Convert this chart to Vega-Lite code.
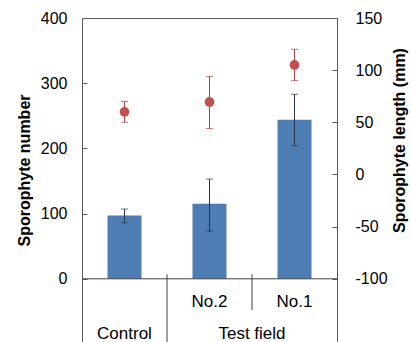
{
  "$schema": "https://vega.github.io/schema/vega-lite/v6.json",
  "width": 255,
  "height": 326,
  "autosize": {"type": "none"},
  "padding": {"left": 82, "top": 18, "right": 74, "bottom": 0},
  "background": "white",
  "config": {"view": {"stroke": "#595959", "strokeWidth": 1}, "font": "Liberation Sans"},
  "datasets": {
    "main": [
      {"site": "Control", "number": 97, "number_lo": 86, "number_hi": 107, "length": 60, "length_lo": 50, "length_hi": 70},
      {"site": "No.2", "number": 115, "number_lo": 73, "number_hi": 153, "length": 69.5, "length_lo": 44, "length_hi": 94},
      {"site": "No.1", "number": 244, "number_lo": 204, "number_hi": 283, "length": 105, "length_lo": 90, "length_hi": 120}
    ]
  },
  "layer": [
    {
      "data": {"name": "main"},
      "layer": [
        {
          "mark": {"type": "bar", "color": "#4E7DB4", "width": {"band": 0.4}},
          "encoding": {
            "x": {"field": "site", "type": "nominal", "sort": ["Control", "No.2", "No.1"], "scale": {"type": "band", "paddingInner": 0, "paddingOuter": 0}, "axis": null},
            "y": {
              "field": "number", "type": "quantitative",
              "scale": {"domain": [-100, 400], "nice": false, "zero": false},
              "axis": {
                "title": "Sporophyte number", "orient": "left", "values": [0, 100, 200, 300, 400],
                "domain": false, "grid": false, "tickSize": -5, "tickColor": "#595959",
                "labelPadding": 20, "labelFontSize": 16, "labelColor": "black", "labelFont": "Liberation Sans",
                "titleFontSize": 16, "titleFont": "Liberation Sans", "titleFontWeight": "bold", "titleColor": "black",
                "titleAngle": -90, "titleX": -58, "titleY": 152, "titleAlign": "center", "titleBaseline": "middle"
              }
            }
          }
        },
        {
          "mark": {"type": "rule", "color": "#26334D", "strokeWidth": 1},
          "encoding": {
            "x": {"field": "site", "type": "nominal", "sort": ["Control", "No.2", "No.1"]},
            "y": {"field": "number_lo", "type": "quantitative"},
            "y2": {"field": "number_hi"}
          }
        },
        {
          "mark": {"type": "tick", "color": "#26334D", "size": 7, "thickness": 1},
          "encoding": {
            "x": {"field": "site", "type": "nominal", "sort": ["Control", "No.2", "No.1"]},
            "y": {"field": "number_lo", "type": "quantitative"}
          }
        },
        {
          "mark": {"type": "tick", "color": "#26334D", "size": 7, "thickness": 1},
          "encoding": {
            "x": {"field": "site", "type": "nominal", "sort": ["Control", "No.2", "No.1"]},
            "y": {"field": "number_hi", "type": "quantitative"}
          }
        },
        {
          "data": {"values": [{"line": "base"}]},
          "mark": {"type": "rule", "color": "#404040", "strokeWidth": 1},
          "encoding": {"y": {"datum": 0}}
        },
        {
          "data": {"values": [{"site": "No.2"}]},
          "mark": {"type": "rule", "color": "#404040", "strokeWidth": 1},
          "encoding": {
            "x": {"field": "site", "type": "nominal", "sort": ["Control", "No.2", "No.1"], "bandPosition": 0},
            "y": {"datum": 7},
            "y2": {"datum": -100}
          }
        },
        {
          "data": {"values": [{"site": "No.1"}]},
          "mark": {"type": "rule", "color": "#404040", "strokeWidth": 1},
          "encoding": {
            "x": {"field": "site", "type": "nominal", "sort": ["Control", "No.2", "No.1"], "bandPosition": 0},
            "y": {"datum": 7},
            "y2": {"datum": -48}
          }
        },
        {
          "data": {"values": [{"site": "No.2", "label": "No.2"}, {"site": "No.1", "label": "No.1"}]},
          "mark": {"type": "text", "fontSize": 17, "color": "black", "align": "center", "baseline": "alphabetic"},
          "encoding": {
            "x": {"field": "site", "type": "nominal", "sort": ["Control", "No.2", "No.1"]},
            "y": {"datum": -43},
            "text": {"field": "label"}
          }
        },
        {
          "data": {"values": [{"site": "Control", "label": "Control"}]},
          "mark": {"type": "text", "fontSize": 17, "color": "black", "align": "center", "baseline": "alphabetic"},
          "encoding": {
            "x": {"field": "site", "type": "nominal", "sort": ["Control", "No.2", "No.1"]},
            "y": {"datum": -93},
            "text": {"field": "label"}
          }
        },
        {
          "data": {"values": [{"site": "No.1", "label": "Test field"}]},
          "mark": {"type": "text", "fontSize": 17, "color": "black", "align": "center", "baseline": "alphabetic"},
          "encoding": {
            "x": {"field": "site", "type": "nominal", "sort": ["Control", "No.2", "No.1"], "bandPosition": 0},
            "y": {"datum": -93},
            "text": {"field": "label"}
          }
        }
      ]
    },
    {
      "data": {"name": "main"},
      "layer": [
        {
          "mark": {"type": "rule", "color": "#A8443F", "strokeWidth": 1},
          "encoding": {
            "x": {"field": "site", "type": "nominal", "sort": ["Control", "No.2", "No.1"]},
            "y": {"field": "length_lo", "type": "quantitative"},
            "y2": {"field": "length_hi"}
          }
        },
        {
          "mark": {"type": "tick", "color": "#A8443F", "size": 7, "thickness": 1},
          "encoding": {
            "x": {"field": "site", "type": "nominal", "sort": ["Control", "No.2", "No.1"]},
            "y": {"field": "length_lo", "type": "quantitative"}
          }
        },
        {
          "mark": {"type": "tick", "color": "#A8443F", "size": 7, "thickness": 1},
          "encoding": {
            "x": {"field": "site", "type": "nominal", "sort": ["Control", "No.2", "No.1"]},
            "y": {"field": "length_hi", "type": "quantitative"}
          }
        },
        {
          "mark": {"type": "point", "filled": true, "shape": "circle", "color": "#C0504D", "size": 95, "opacity": 1},
          "encoding": {
            "x": {"field": "site", "type": "nominal", "sort": ["Control", "No.2", "No.1"]},
            "y": {
              "field": "length", "type": "quantitative",
              "scale": {"domain": [-162.5, 150], "nice": false, "zero": false},
              "axis": {
                "title": "Sporophyte length (mm)", "orient": "right", "values": [-100, -50, 0, 50, 100, 150],
                "labelExpr": "'' + datum.value",
                "domain": false, "grid": false, "tickSize": -5, "tickColor": "#595959",
                "labelPadding": 23, "labelFontSize": 16, "labelColor": "black", "labelFont": "Liberation Sans",
                "titleFontSize": 16, "titleFont": "Liberation Sans", "titleFontWeight": "bold", "titleColor": "black",
                "titleAngle": -90, "titleX": 62, "titleY": 122, "titleAlign": "center", "titleBaseline": "middle"
              }
            }
          }
        }
      ]
    }
  ],
  "resolve": {"scale": {"y": "independent"}}
}
